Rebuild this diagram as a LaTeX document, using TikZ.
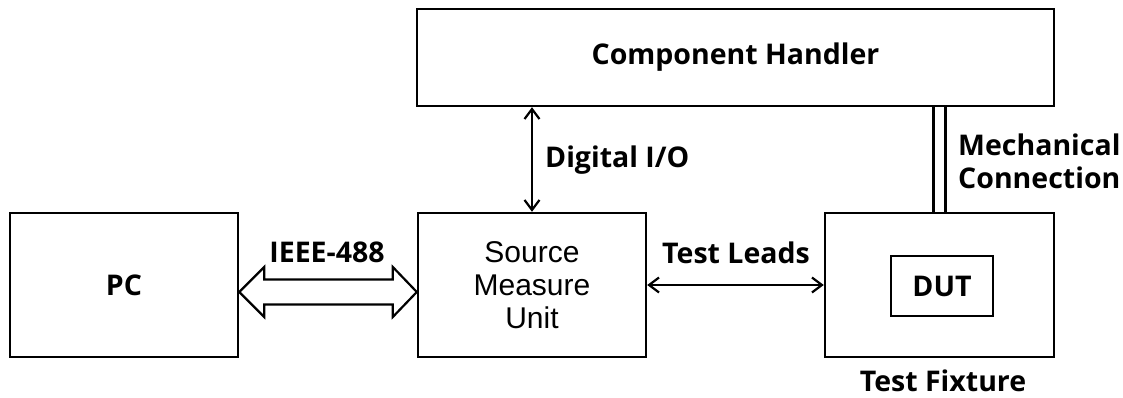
\documentclass[tikz,border=0pt]{standalone}
\usepackage{fontspec}
\setmainfont{Open Sans}
\newfontfamily\smufont{Liberation Sans}
\usetikzlibrary{arrows.meta,calc}
\tikzset{
  blk/.style={draw, line width=2.4pt, rectangle, inner sep=0pt, font=\fontsize{28.5}{33}\selectfont\bfseries},
  lbl/.style={font=\fontsize{28.5}{33}\selectfont\bfseries, inner sep=0pt},
  conn/.style={line width=2.2pt, {Straight Barb[length=10pt,width=15pt,line width=2.2pt]}-{Straight Barb[length=10pt,width=15pt,line width=2.2pt]}},
}
\begin{document}
\begin{tikzpicture}[x=1pt,y=-1pt]
\useasboundingbox (0,0) rectangle (1123,398);
\node[blk, minimum width=637pt, minimum height=97pt] (handler) at (735.5,57.5) {Component Handler};
\node[blk, minimum width=228pt, minimum height=144pt] (pc) at (124,285) {PC};
\node[blk, minimum width=228pt, minimum height=144pt, font=\smufont\fontsize{30}{33}\selectfont, align=center] (smu) at (532,285) {Source\\Measure\\Unit};
\node[blk, minimum width=229pt, minimum height=144pt] (fixture) at (939.5,285) {};
\node[blk, minimum width=102pt, minimum height=60pt] (dut) at (942,286) {DUT};
% IEEE-488 bus arrow
\coordinate (ia) at ($(pc.east)+(0,7)$);
\coordinate (ib) at ($(smu.west)+(0,7)$);
\draw[line width=2.2pt, line join=miter]
  (ia) -- ++(25,-25) -- ++(0,12.5) -- ($(ib)+(-24,-12.5)$) -- ++(0,-12.5) -- (ib)
  -- ++(-24,25) -- ++(0,-12.5) -- ($(ia)+(25,12.5)$) -- ++(0,12.5) -- cycle;
\node[lbl] (ieee) at (327,252) {IEEE-488};
% Test leads
\draw[conn] (smu.east) -- (fixture.west);
\node[lbl] (leads) at (736,253) {Test Leads};
% Digital I/O
\draw[conn] (smu.north) -- (smu.north |- handler.south);
\node[lbl, anchor=west] (dio) at (545,160) {Digital I/O};
% Mechanical connection
\draw[line width=2.4pt] ($(fixture.north)+(-6,0)$) -- ($(fixture.north |- handler.south)+(-6,0)$);
\draw[line width=2.4pt] ($(fixture.north)+(6,0)$) -- ($(fixture.north |- handler.south)+(6,0)$);
\node[lbl, anchor=west, align=left] (mech) at (958,161) {Mechanical\\Connection};
\node[lbl, anchor=base] (tf) at (943,391) {Test Fixture};
\end{tikzpicture}
\end{document}
